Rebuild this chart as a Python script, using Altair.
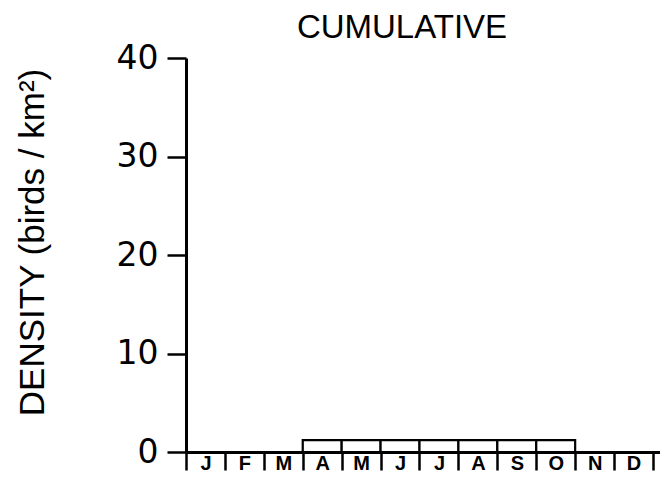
import altair as alt
import pandas as pd

months = ["J", "F", "M", "A", "M", "J", "J", "A", "S", "O", "N", "D"]
density = [0, 0, 0, 1.2, 1.2, 1.2, 1.2, 1.2, 1.2, 1.2, 0, 0]
y_ticks = [0, 10, 20, 30, 40]

df = pd.DataFrame({"idx": list(range(12)), "month": months, "density": density})

label_expr = "datum.value < 12 ? [" + ",".join("'%s'" % m for m in months) + "][datum.value] : ''"

FONT = "Liberation Sans"

bars = (
    alt.Chart(df)
    .transform_filter("datum.density > 0")
    .transform_calculate(start="datum.idx", end="datum.idx + 1")
    .mark_rect(fill="white", stroke="black", strokeWidth=2.2)
    .encode(
        x=alt.X(
            "start:Q",
            scale=alt.Scale(domain=[0, 12.18], nice=False, zero=False),
            axis=alt.Axis(
                values=list(range(13)),
                labelExpr=label_expr,
                title="",
                grid=False,
                tickSize=18,
                tickWidth=2.5,
                domainWidth=3,
                tickColor="black",
                domainColor="black",
                labelOffset=19.5,
                labelPadding=-17,
                labelBaseline="top",
                labelFontSize=20,
                labelFontWeight="bold",
                labelFont=FONT,
                labelColor="black",
                labelFlush=False,
                labelOverlap=False,
                labelBound=False,
            ),
        ),
        x2="end:Q",
        y=alt.Y(
            "density:Q",
            scale=alt.Scale(domain=[0, 40], nice=False),
            axis=alt.Axis(
                values=y_ticks,
                title="DENSITY (birds / km²)",
                grid=False,
                tickSize=19,
                tickWidth=2.5,
                domainWidth=3,
                tickColor="black",
                domainColor="black",
                labelFontSize=33,
                labelFont="DejaVu Sans",
                labelColor="black",
                labelPadding=9,
                labelFlush=False,
                titleFont=FONT,
                titleFontSize=35,
                titleFontWeight="normal",
                titleColor="black",
                titlePadding=66,
                titleY=184,
            ),
        ),
        y2=alt.value(394),
    )
)

chart = (
    bars.properties(
        width=474,
        height=394,
        view=alt.ViewBackground(stroke="transparent", strokeWidth=0, strokeOpacity=0),
        title=alt.Title(
            "CUMULATIVE",
            fontSize=33,
            fontWeight="normal",
            font=FONT,
            color="black",
            anchor="middle",
            dx=-21,
            dy=21,
            offset=18,
        ),
        autosize=alt.AutoSizeParams(type="none"),
        padding={"left": 178, "top": 50, "right": 0, "bottom": 24},
    )
    .configure_view(strokeWidth=0, stroke="transparent")
    .configure_axis(gridColor="transparent", gridOpacity=0)
    .configure(background="white")
)

chart.save("out.html", embed_options={"renderer": "svg", "actions": False})
